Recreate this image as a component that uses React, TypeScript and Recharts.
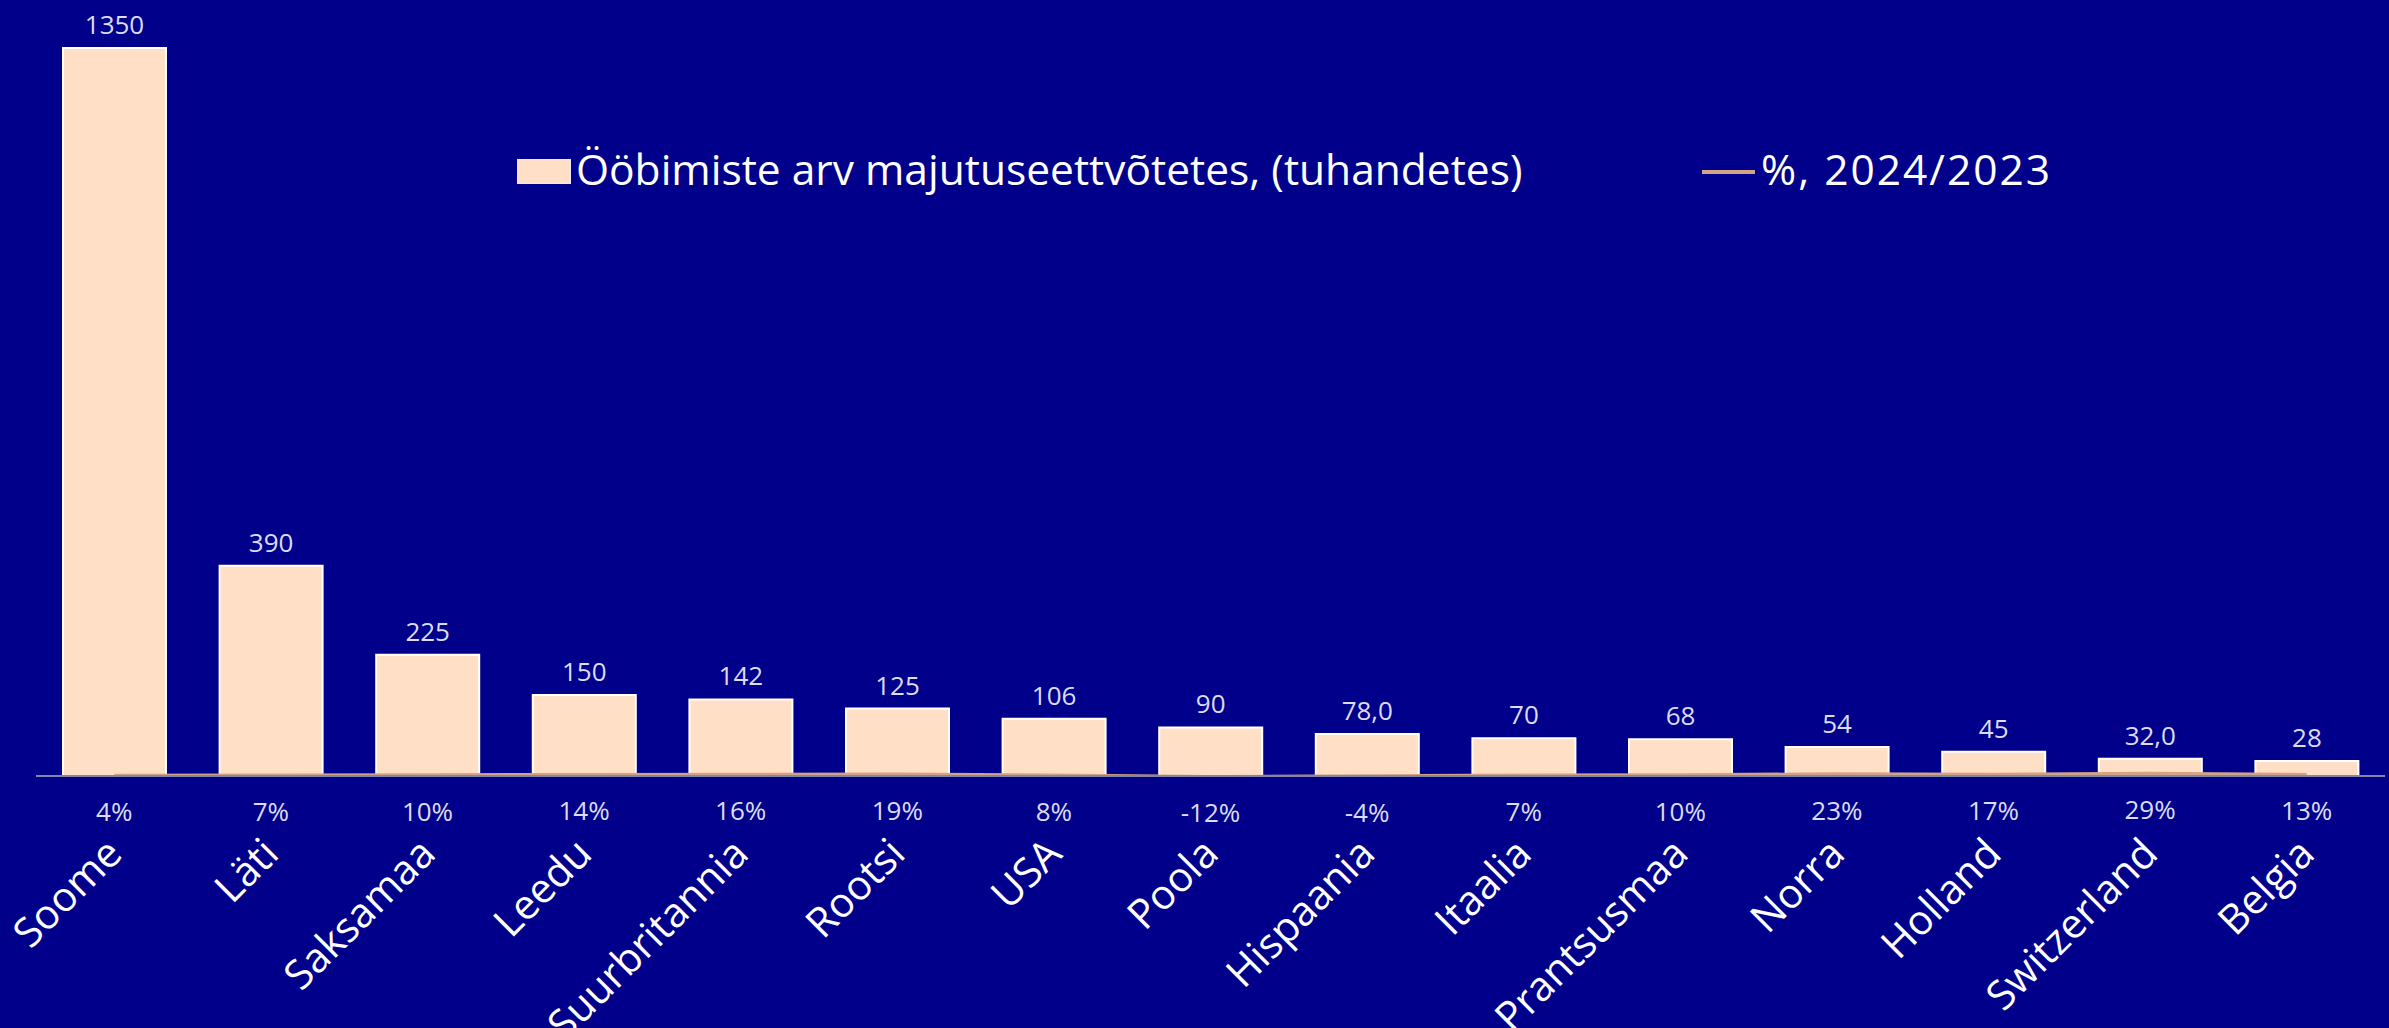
import React from 'react';
import { ComposedChart, Bar, Line, XAxis, YAxis, LabelList, Legend } from 'recharts';

const countries = [
  'Soome', 'Läti', 'Saksamaa', 'Leedu', 'Suurbritannia', 'Rootsi', 'USA', 'Poola',
  'Hispaania', 'Itaalia', 'Prantsusmaa', 'Norra', 'Holland', 'Switzerland', 'Belgia',
];
const nights = [1350, 390, 225, 150, 142, 125, 106, 90, 78, 70, 68, 54, 45, 32, 28];
const nightLabels = ['1350', '390', '225', '150', '142', '125', '106', '90', '78,0', '70', '68', '54', '45', '32,0', '28'];
const change = [4, 7, 10, 14, 16, 19, 8, -12, -4, 7, 10, 23, 17, 29, 13];

const BG = '#00008B';
const BAR = '#FFDFC6';
const LINE = '#D2A486';
const FONT = '"Open Sans", sans-serif';

const data = countries.map((name, i) => ({
  name,
  nights: nights[i],
  nightLabel: nightLabels[i],
  change: change[i],
  changeLabel: `${change[i]}%`,
}));

const CountryTick = (props: any) => {
  const { x, y, payload } = props;
  const ax = x + 10;
  const ay = y + 80;
  return (
    <text
      x={ax}
      y={ay}
      transform={`rotate(-45, ${ax}, ${ay})`}
      textAnchor="end"
      fill="#ffffff"
      fontSize={41}
      fontFamily={FONT}
    >
      {payload.value}
    </text>
  );
};

// legend box has zero height so it doesn't eat into the plot area
const renderLegend = () => (
  <div style={{ position: 'relative', width: 2389, height: 0, overflow: 'visible', fontFamily: FONT, color: '#fff' }}>
    <div style={{ position: 'absolute', left: 517, top: 0, width: 52, height: 23, background: BAR, border: '1px solid #e8e8f8' }} />
    <div style={{ position: 'absolute', left: 576, top: -19, fontSize: 42.5, whiteSpace: 'nowrap' }}>
      Ööbimiste arv majutuseettvõtetes, (tuhandetes)
    </div>
    <div style={{ position: 'absolute', left: 1702, top: 11, width: 53, height: 4, background: LINE }} />
    <div style={{ position: 'absolute', left: 1761, top: -19, fontSize: 42.5, letterSpacing: 2, whiteSpace: 'nowrap' }}>
      %, 2024/2023
    </div>
  </div>
);

export default function App() {
  return (
    <div style={{ position: 'fixed', left: 0, top: 0, width: 2389, height: 1028, background: BG }}>
      <ComposedChart
        width={2389}
        height={1028}
        data={data}
        margin={{ top: 21, right: 4, bottom: 0, left: 36 }}
      >
        <XAxis
          dataKey="name"
          height={252}
          tick={<CountryTick />}
          tickLine={false}
          tickSize={0}
          tickMargin={0}
          interval={0}
          axisLine={{ stroke: '#8585a8', strokeWidth: 2 }}
        />
        <YAxis yAxisId="left" hide domain={[0, 1400]} />
        <YAxis yAxisId="pct" hide orientation="right" domain={[0, 10000]} allowDataOverflow />
        <Legend content={renderLegend} wrapperStyle={{ position: 'absolute', top: 159, left: 0, height: 0 }} />
        <Bar
          yAxisId="left"
          dataKey="nights"
          name="Ööbimiste arv majutuseettvõtetes, (tuhandetes)"
          fill={BAR}
          stroke="#ffffff"
          strokeWidth={2}
          barSize={103}
          isAnimationActive={false}
        >
          <LabelList
            dataKey="nightLabel"
            position="top"
            offset={14}
            fill="#dcdcf2"
            fontSize={26}
            fontFamily={FONT}
          />
        </Bar>
        <Line
          yAxisId="pct"
          dataKey="change"
          name="%, 2024/2023"
          stroke={LINE}
          strokeWidth={4}
          dot={false}
          activeDot={false}
          isAnimationActive={false}
        >
          <LabelList
            dataKey="changeLabel"
            position="bottom"
            offset={27}
            fill="#dcdcf2"
            fontSize={26}
            fontFamily={FONT}
          />
        </Line>
      </ComposedChart>
    </div>
  );
}
